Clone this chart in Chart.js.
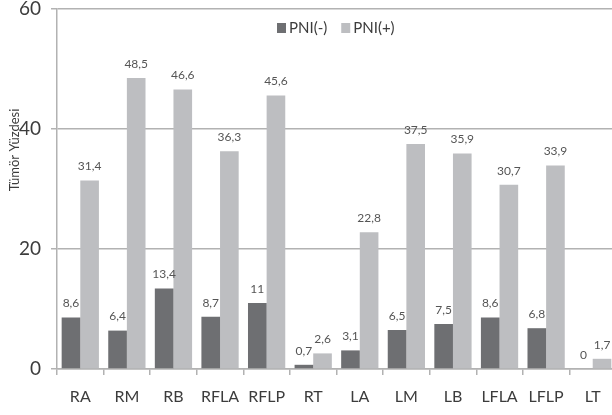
<!DOCTYPE html>
<html>
<head>
<meta charset="utf-8">
<script src="https://cdn.jsdelivr.net/npm/chart.js@4"></script>
<style>
  html, body { margin: 0; padding: 0; background: #fff; overflow: hidden; }
  #graph { width: 616px; height: 415px; position: relative; }
</style>
</head>
<body>
<div id="graph"><canvas id="chartCanvas"></canvas></div>
<script>
// Data
var categories = ['RA', 'RM', 'RB', 'RFLA', 'RFLP', 'RT', 'LA', 'LM', 'LB', 'LFLA', 'LFLP', 'LT'];
var pniNeg = [8.6, 6.4, 13.4, 8.7, 11, 0.7, 3.1, 6.5, 7.5, 8.6, 6.8, 0];
var pniPos = [31.4, 48.5, 46.6, 36.3, 45.6, 2.6, 22.8, 37.5, 35.9, 30.7, 33.9, 1.7];
var yTicks = [0, 20, 40, 60];
var yTitle = 'Tümör Yüzdesi';

var FONT = 'Lato';
var TEXT = '#3c3c3c';
var LINE = '#b2b2b2';

// Value labels above each bar (comma decimals)
var barLabels = {
    id: 'barLabels',
    afterDatasetsDraw: function (chart) {
        var ctx = chart.ctx;
        ctx.save();
        ctx.font = '12px ' + FONT;
        ctx.fillStyle = '#555';
        ctx.textAlign = 'center';
        ctx.textBaseline = 'bottom';
        chart.data.datasets.forEach(function (ds, i) {
            chart.getDatasetMeta(i).data.forEach(function (bar, j) {
                var txt = String(ds.data[j]).replace('.', ',');
                ctx.fillText(txt, bar.x, bar.y - 8);
            });
        });
        ctx.restore();
    }
};

// Legend inside the plot and rotated axis title
var extras = {
    id: 'extras',
    afterDraw: function (chart) {
        var ctx = chart.ctx;
        ctx.save();
        // legend
        ctx.font = '15px ' + FONT;
        ctx.textBaseline = 'middle';
        ctx.textAlign = 'left';
        var x = 277, y = 28;
        chart.data.datasets.forEach(function (ds) {
            ctx.fillStyle = ds.backgroundColor;
            ctx.fillRect(x, y - 5, 9, 10);
            ctx.fillStyle = TEXT;
            ctx.fillText(ds.label, x + 12, y);
            x += 12 + ctx.measureText(ds.label).width + 14;
        });
        // y title
        ctx.translate(15, 150);
        ctx.rotate(-Math.PI / 2);
        ctx.font = '13px ' + FONT;
        ctx.textAlign = 'center';
        ctx.fillStyle = TEXT;
        ctx.fillText(yTitle, 0, 0);
        ctx.restore();
    }
};

var chart = new Chart(document.getElementById('chartCanvas'), {
    type: 'bar',
    data: {
        labels: categories,
        datasets: [{
            label: 'PNI(-)',
            data: pniNeg,
            backgroundColor: '#6e6f72'
        }, {
            label: 'PNI(+)',
            data: pniPos,
            backgroundColor: '#bdbec1'
        }]
    },
    plugins: [barLabels, extras],
    options: {
        responsive: true,
        maintainAspectRatio: false,
        animation: false,
        layout: { padding: 0 },
        plugins: {
            legend: { display: false },
            tooltip: { enabled: false }
        },
        datasets: {
            bar: { categoryPercentage: 0.8, barPercentage: 1 }
        },
        scales: {
            x: {
                grid: { drawOnChartArea: false, drawTicks: true, tickLength: 6, color: LINE, lineWidth: 1.5 },
                border: { color: LINE, width: 1.5 },
                ticks: { color: TEXT, font: { family: FONT, size: 16 }, padding: 12, maxRotation: 0, autoSkip: false },
                afterFit: function (scale) { scale.height = 46; }
            },
            y: {
                min: 0,
                max: 60,
                afterBuildTicks: function (scale) {
                    scale.ticks = yTicks.map(function (v) { return { value: v }; });
                },
                grid: { color: LINE, lineWidth: 1.5, tickLength: 6 },
                border: { color: LINE, width: 1.5 },
                ticks: { color: TEXT, font: { family: FONT, size: 19 }, padding: 10 },
                afterFit: function (scale) {
                    scale.width = 57;
                    scale.paddingTop = 9;
                    scale.paddingBottom = 0;
                }
            }
        }
    }
});
</script>
</body>
</html>
